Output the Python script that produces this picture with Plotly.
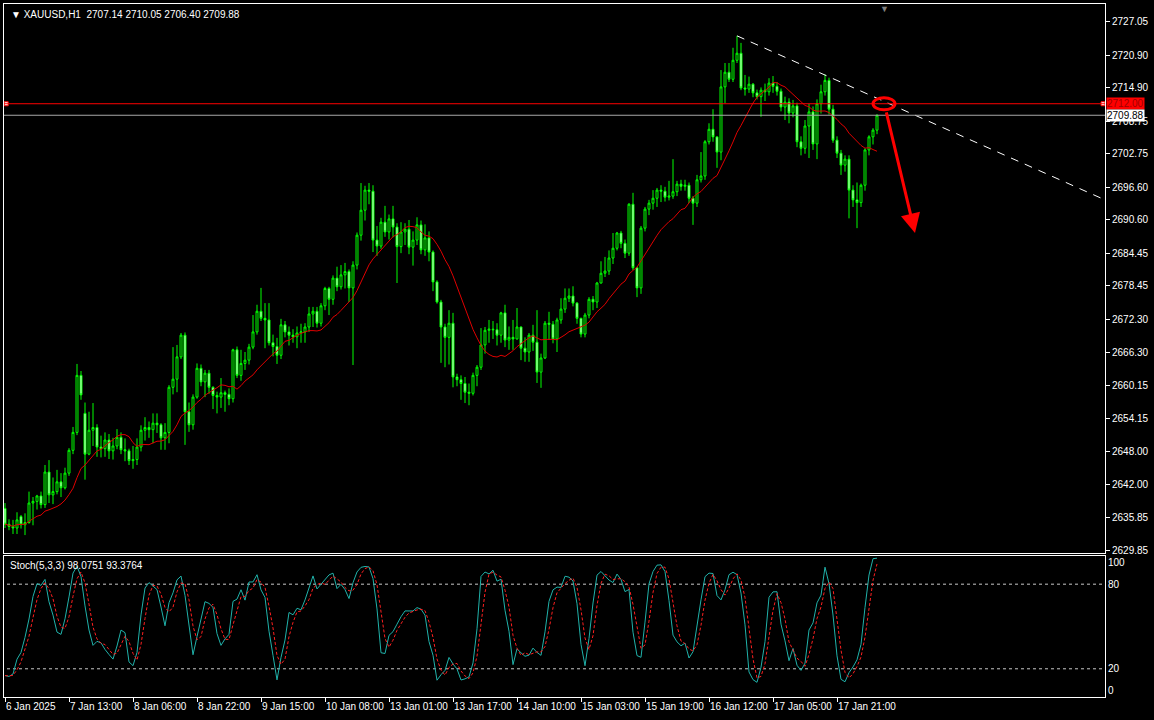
import plotly.graph_objects as go
import pandas as pd

# ---------------- data ----------------
opens = [
    2637.5, 2634.6, 2634.2, 2633.9, 2636.0, 2634.5, 2634.9, 2638.5, 2638.8, 2639.8,
    2638.2, 2644.2, 2640.0, 2640.6, 2642.4, 2641.3, 2644.0, 2648.2, 2651.5, 2662.0,
    2655.0, 2647.5, 2651.9, 2652.4, 2648.8, 2648.5, 2650.1, 2648.1, 2649.0, 2650.6,
    2648.3, 2648.1, 2646.3, 2646.5, 2648.8, 2651.9, 2652.4, 2652.0, 2653.2, 2652.9,
    2650.5, 2651.5, 2659.8, 2661.3, 2665.4, 2669.4, 2655.3, 2652.9, 2658.0, 2663.3,
    2660.8, 2662.4, 2659.8, 2658.3, 2658.0, 2658.8, 2658.5, 2657.7, 2666.7, 2662.0,
    2664.2, 2664.8, 2667.2, 2670.0, 2673.8, 2672.5, 2672.2, 2668.0, 2667.3, 2665.7,
    2671.3, 2670.0, 2669.4, 2669.1, 2669.8, 2670.0, 2670.9, 2673.3, 2673.8, 2671.6,
    2674.8, 2678.0, 2676.0, 2679.9, 2678.3, 2680.5, 2681.1, 2678.1, 2682.3, 2687.8,
    2692.4, 2696.1, 2695.9, 2686.9, 2685.8, 2690.2, 2688.4, 2690.8, 2689.3, 2685.7,
    2688.4, 2688.9, 2685.6, 2686.9, 2689.7, 2685.1, 2687.3, 2684.7, 2679.2, 2675.5,
    2670.9, 2669.0, 2671.6, 2661.7, 2661.2, 2660.5, 2658.9, 2658.7, 2662.0, 2663.5,
    2667.6, 2670.3, 2670.5, 2670.4, 2669.4, 2673.5, 2668.5, 2669.0, 2668.7, 2670.9,
    2667.0, 2666.3, 2669.4, 2668.1, 2662.6, 2665.2, 2671.6, 2671.4, 2668.7, 2672.2,
    2674.2, 2676.2, 2676.6, 2675.3, 2672.5, 2669.6, 2673.1, 2676.0, 2675.5, 2679.0,
    2680.8, 2681.2, 2683.6, 2685.4, 2688.2, 2686.3, 2684.5, 2693.5, 2681.8, 2678.1,
    2689.1, 2692.6, 2693.7, 2694.6, 2696.1, 2695.9, 2694.8, 2695.0, 2695.8, 2697.2,
    2696.8, 2697.0, 2694.6, 2693.7, 2698.0, 2698.7, 2705.0, 2707.3, 2705.9, 2703.1,
    2715.1, 2717.8, 2716.5, 2720.0, 2721.3, 2714.9, 2714.7, 2715.6, 2714.0, 2713.3,
    2714.5, 2714.2, 2715.8, 2715.2, 2714.3, 2711.4, 2712.3, 2710.3, 2711.6, 2705.0,
    2703.8, 2707.9, 2710.5, 2704.6, 2712.0, 2714.2, 2716.3, 2711.0, 2705.3, 2702.9,
    2700.7, 2701.8, 2696.1, 2694.3, 2693.8, 2697.0, 2703.5, 2705.9, 2707.14,
]
highs = [
    2638.5, 2635.5, 2635.4, 2636.8, 2636.3, 2636.6, 2640.6, 2639.6, 2640.0, 2640.6,
    2645.5, 2646.4, 2643.2, 2644.6, 2644.0, 2645.0, 2648.6, 2652.5, 2664.1, 2662.8,
    2657.0, 2655.3, 2656.9, 2653.0, 2650.9, 2651.5, 2651.2, 2650.5, 2652.1, 2651.5,
    2650.4, 2648.5, 2649.0, 2650.4, 2652.8, 2654.3, 2653.5, 2655.0, 2655.0, 2653.2,
    2653.2, 2660.2, 2667.2, 2667.6, 2669.8, 2669.9, 2657.0, 2658.5, 2664.2, 2664.0,
    2663.0, 2663.0, 2660.0, 2659.0, 2661.5, 2659.2, 2659.6, 2666.9, 2667.3, 2666.7,
    2666.3, 2667.8, 2673.1, 2675.0, 2678.1, 2675.3, 2675.3, 2669.5, 2668.9, 2672.4,
    2672.0, 2671.0, 2670.5, 2671.0, 2671.5, 2671.6, 2674.6, 2674.6, 2674.6, 2675.3,
    2678.3, 2678.3, 2680.4, 2682.0, 2682.3, 2682.7, 2681.5, 2683.0, 2688.3, 2697.4,
    2696.9, 2697.4, 2697.0, 2689.5, 2691.0, 2693.2, 2691.6, 2693.2, 2690.0, 2690.2,
    2690.0, 2690.6, 2688.5, 2691.1, 2690.5, 2689.8, 2688.5, 2685.0, 2679.5, 2675.9,
    2671.5, 2674.0, 2673.5, 2662.3, 2662.0, 2661.7, 2660.5, 2662.5, 2663.9, 2670.7,
    2670.9, 2672.2, 2672.0, 2671.6, 2673.7, 2675.0, 2671.0, 2672.2, 2674.4, 2671.0,
    2669.0, 2669.8, 2671.3, 2674.0, 2666.0, 2672.0, 2673.7, 2672.0, 2672.6, 2676.2,
    2678.0, 2678.0, 2678.4, 2675.5, 2672.6, 2673.5, 2676.4, 2676.6, 2679.2, 2683.0,
    2683.8, 2685.0, 2688.2, 2688.4, 2688.6, 2687.0, 2693.7, 2695.6, 2682.0, 2689.5,
    2693.0, 2694.3, 2696.1, 2696.5, 2697.0, 2696.7, 2697.8, 2701.8, 2697.8, 2698.0,
    2698.0, 2697.5, 2695.0, 2698.9, 2703.1, 2705.3, 2708.4, 2711.0, 2706.0, 2718.2,
    2719.5, 2719.5, 2722.3, 2724.5, 2723.2, 2717.3, 2717.0, 2715.8, 2714.6, 2715.0,
    2715.7, 2716.7, 2717.1, 2716.0, 2714.8, 2713.3, 2713.0, 2712.7, 2712.2, 2706.0,
    2709.0, 2712.0, 2711.5, 2712.8, 2715.5, 2717.4, 2716.8, 2711.8, 2706.0, 2703.5,
    2702.5, 2702.5, 2697.0, 2697.5, 2697.3, 2703.8, 2706.2, 2707.5, 2710.05,
]
lows = [
    2633.9, 2633.5, 2632.8, 2632.8, 2633.8, 2632.6, 2634.7, 2634.4, 2637.3, 2637.5,
    2637.6, 2638.5, 2638.3, 2640.1, 2639.6, 2641.0, 2643.5, 2647.5, 2651.0, 2657.5,
    2642.8, 2647.3, 2649.0, 2647.0, 2646.9, 2647.0, 2646.6, 2646.5, 2648.4, 2647.5,
    2646.2, 2645.5, 2644.8, 2645.5, 2648.0, 2650.0, 2650.5, 2649.5, 2651.4, 2648.3,
    2648.3, 2649.5, 2658.5, 2658.9, 2665.0, 2649.2, 2651.6, 2652.0, 2657.7, 2660.0,
    2658.0, 2658.6, 2655.8, 2655.0, 2656.0, 2655.3, 2656.5, 2657.0, 2661.5, 2661.0,
    2663.0, 2664.0, 2666.8, 2669.5, 2672.0, 2667.0, 2667.5, 2665.5, 2664.1, 2665.0,
    2669.0, 2667.5, 2668.0, 2667.0, 2668.0, 2668.0, 2670.0, 2670.9, 2670.8, 2671.0,
    2674.0, 2673.1, 2675.0, 2677.5, 2677.8, 2678.0, 2675.5, 2663.9, 2681.5, 2686.8,
    2690.5, 2693.5, 2684.7, 2684.0, 2685.3, 2687.5, 2687.0, 2687.4, 2679.0, 2684.5,
    2686.0, 2684.3, 2682.2, 2686.0, 2684.3, 2684.0, 2683.0, 2677.5, 2675.2, 2664.3,
    2663.5, 2664.0, 2659.8, 2660.0, 2657.5, 2656.9, 2656.5, 2658.3, 2660.0, 2663.0,
    2666.0, 2668.0, 2668.7, 2667.5, 2668.0, 2667.2, 2666.7, 2666.7, 2668.6, 2664.8,
    2664.5, 2664.5, 2666.5, 2660.6, 2659.7, 2665.0, 2668.5, 2667.9, 2666.3, 2671.5,
    2673.5, 2675.5, 2674.7, 2671.5, 2669.0, 2669.0, 2672.5, 2674.0, 2674.4, 2678.9,
    2680.1, 2680.5, 2682.5, 2685.0, 2685.4, 2683.6, 2684.0, 2681.4, 2676.4, 2677.0,
    2688.5, 2691.5, 2692.5, 2693.0, 2693.9, 2694.0, 2694.2, 2694.5, 2695.0, 2696.0,
    2696.0, 2693.7, 2689.7, 2693.0, 2697.5, 2698.0, 2704.5, 2705.0, 2700.2, 2701.6,
    2712.1, 2716.0, 2716.0, 2719.5, 2714.5, 2713.5, 2714.0, 2713.2, 2712.8, 2709.6,
    2712.5, 2713.5, 2714.0, 2713.5, 2710.6, 2709.0, 2708.4, 2709.5, 2704.0, 2702.5,
    2702.8, 2702.0, 2703.5, 2701.8, 2710.2, 2713.5, 2710.0, 2704.8, 2702.0, 2698.9,
    2699.5, 2690.9, 2693.0, 2689.1, 2693.0, 2696.0, 2702.5, 2704.5, 2706.40,
]
closes = [
    2634.6, 2634.2, 2633.9, 2635.4, 2634.5, 2634.9, 2638.5, 2638.8, 2639.8, 2638.2,
    2644.2, 2640.0, 2640.6, 2642.4, 2641.3, 2644.0, 2648.2, 2651.5, 2662.0, 2658.4,
    2647.5, 2651.9, 2652.4, 2648.8, 2648.5, 2650.1, 2648.1, 2649.0, 2650.6, 2648.3,
    2648.1, 2646.3, 2646.5, 2648.8, 2651.9, 2652.4, 2652.0, 2653.2, 2652.9, 2650.5,
    2651.5, 2659.8, 2661.3, 2665.4, 2669.4, 2655.3, 2652.9, 2658.0, 2663.3, 2660.8,
    2662.4, 2659.8, 2658.3, 2658.0, 2658.8, 2658.5, 2657.7, 2666.7, 2662.0, 2664.2,
    2664.8, 2667.2, 2670.0, 2673.8, 2672.5, 2672.2, 2668.0, 2667.3, 2665.7, 2671.3,
    2670.0, 2669.4, 2669.1, 2669.8, 2670.0, 2670.9, 2673.3, 2673.8, 2671.6, 2674.8,
    2678.0, 2676.0, 2679.9, 2678.3, 2680.5, 2681.1, 2678.1, 2682.3, 2687.8, 2692.4,
    2696.1, 2695.9, 2686.9, 2685.8, 2690.2, 2688.4, 2690.8, 2689.3, 2685.7, 2688.4,
    2688.9, 2685.6, 2686.9, 2689.7, 2685.1, 2687.3, 2684.7, 2679.2, 2675.5, 2670.9,
    2669.0, 2671.6, 2661.7, 2661.2, 2660.5, 2658.9, 2658.7, 2662.0, 2663.5, 2667.6,
    2670.3, 2670.5, 2670.4, 2669.4, 2673.5, 2668.5, 2669.0, 2668.7, 2670.9, 2667.0,
    2666.3, 2669.4, 2668.1, 2662.6, 2665.2, 2671.6, 2671.4, 2668.7, 2672.2, 2674.2,
    2676.2, 2676.6, 2675.3, 2672.5, 2669.6, 2673.1, 2676.0, 2675.5, 2679.0, 2680.8,
    2681.2, 2683.6, 2685.4, 2688.2, 2686.3, 2684.5, 2693.5, 2681.8, 2678.1, 2689.1,
    2692.6, 2693.7, 2694.6, 2696.1, 2695.9, 2694.8, 2695.0, 2695.8, 2697.2, 2696.8,
    2697.0, 2694.6, 2693.7, 2698.0, 2698.7, 2705.0, 2707.3, 2705.9, 2703.1, 2715.1,
    2717.8, 2716.5, 2720.0, 2721.3, 2714.9, 2714.7, 2715.6, 2714.0, 2713.3, 2714.5,
    2714.2, 2715.8, 2715.2, 2714.3, 2711.4, 2712.3, 2710.3, 2711.6, 2705.0, 2703.8,
    2707.9, 2710.5, 2704.6, 2712.0, 2714.2, 2716.3, 2711.0, 2705.3, 2702.9, 2700.7,
    2701.8, 2696.1, 2694.3, 2693.8, 2697.0, 2703.5, 2705.9, 2707.14, 2709.88,
]

time_labels = ["6 Jan 2025", "7 Jan 13:00", "8 Jan 06:00", "8 Jan 22:00", "9 Jan 15:00",
               "10 Jan 08:00", "13 Jan 01:00", "13 Jan 17:00", "14 Jan 10:00", "15 Jan 03:00",
               "15 Jan 19:00", "16 Jan 12:00", "17 Jan 05:00", "17 Jan 21:00"]
bars_per_label = 16

price_ticks = [2727.05, 2720.90, 2714.90, 2708.75, 2702.75, 2696.60, 2690.60, 2684.45,
               2678.45, 2672.30, 2666.30, 2660.15, 2654.15, 2648.00, 2642.00, 2635.85, 2629.85]
stoch_levels = [80, 20]
stoch_tick_text = ["100", "80", "20", "0"]

level_price = 2712.00          # red horizontal level
bid_price = 2709.88            # last price
trend_x = [183, 275]           # dashed resistance line (bar index)
trend_y = [2724.5, 2694.3]
arrow_tail = (220.25, 2710.7)
arrow_head = (227.5, 2688.2)

ma_period = 14
k_period, slowing, d_period = 5, 3, 3

# ---------------- derived indicators ----------------
n = len(closes)
x = list(range(n))
df = pd.DataFrame({"h": highs, "l": lows, "c": closes})
ma = df.c.rolling(ma_period, min_periods=1).mean()
ll = df.l.rolling(k_period, min_periods=1).min()
hh = df.h.rolling(k_period, min_periods=1).max()
k_line = 100 * (df.c - ll).rolling(slowing, min_periods=1).sum() / (hh - ll).rolling(slowing, min_periods=1).sum()
d_line = k_line.rolling(d_period, min_periods=1).mean()

# ---------------- figure ----------------
FONT = "Liberation Sans"
fig = go.Figure()

fig.add_trace(go.Candlestick(
    x=x, open=opens, high=highs, low=lows, close=closes,
    increasing=dict(line=dict(color="#00ff00", width=1), fillcolor="#000000"),
    decreasing=dict(line=dict(color="#00ff00", width=1), fillcolor="#e8ffe8"),
    whiskerwidth=0, xaxis="x", yaxis="y", hoverinfo="skip", showlegend=False))

fig.add_trace(go.Scatter(x=x, y=ma, mode="lines", line=dict(color="#e00000", width=1),
                         xaxis="x", yaxis="y", hoverinfo="skip", showlegend=False))

fig.add_trace(go.Scatter(x=trend_x, y=trend_y, mode="lines",
                         line=dict(color="#ffffff", width=1, dash="8px,7px"),
                         xaxis="x", yaxis="y", hoverinfo="skip", showlegend=False))

# level line end markers
fig.add_trace(go.Scatter(x=[0.3, 274.5], y=[level_price, level_price], mode="markers",
                         marker=dict(symbol="square", size=4, color="#ffffff",
                                     line=dict(color="#ff0000", width=1)),
                         xaxis="x", yaxis="y", hoverinfo="skip", showlegend=False))

# stochastic
for lvl in stoch_levels:
    fig.add_trace(go.Scatter(x=[-1, 276], y=[lvl, lvl], mode="lines",
                             line=dict(color="#c8c8c8", width=1, dash="3px,3px"),
                             xaxis="x2", yaxis="y2", hoverinfo="skip", showlegend=False))
fig.add_trace(go.Scatter(x=x, y=k_line, mode="lines", line=dict(color="#20b2aa", width=1),
                         xaxis="x2", yaxis="y2", hoverinfo="skip", showlegend=False))
fig.add_trace(go.Scatter(x=x, y=d_line, mode="lines", line=dict(color="#ff2020", width=1, dash="3px,2px"),
                         xaxis="x2", yaxis="y2", hoverinfo="skip", showlegend=False))

# shapes: level line, bid line, ellipse
shapes = [
    dict(type="line", xref="x domain", yref="y", x0=0, x1=1, y0=level_price, y1=level_price,
         line=dict(color="#ff0000", width=1)),
    dict(type="line", xref="x domain", yref="y", x0=0, x1=1, y0=bid_price, y1=bid_price,
         line=dict(color="#a8a8a8", width=1)),
    dict(type="circle", xref="x", yref="y", x0=217.0, x1=222.5, y0=2710.9, y1=2713.1,
         line=dict(color="#ff0000", width=3)),
]

annotations = [
    dict(text="▼ XAUUSD,H1  2707.14 2710.05 2706.40 2709.88", xref="paper", yref="paper",
         x=0, y=1, xanchor="left", yanchor="top", xshift=5, yshift=-3, showarrow=False,
         font=dict(family=FONT, size=10, color="#ffffff")),
    dict(text="Stoch(5,3,3) 98.0751 93.3764", xref="x2 domain", yref="y2 domain",
         x=0, y=1, xanchor="left", yanchor="top", xshift=4, yshift=-2, showarrow=False,
         font=dict(family=FONT, size=10, color="#ffffff")),
    dict(text="▼", xref="x", yref="paper", x=219.75, y=1, yanchor="top", yshift=2,
         showarrow=False, font=dict(family=FONT, size=9, color="#808080")),
    dict(text=f"{level_price:.2f}", xref="paper", yref="y", x=1, y=level_price, xanchor="left",
         xshift=1, showarrow=False, bgcolor="#ff0000", borderpad=0,
         font=dict(family=FONT, size=10, color="#a00000")),
    dict(text=f"{bid_price:.2f}", xref="paper", yref="y", x=1, y=bid_price, xanchor="left",
         xshift=1, showarrow=False, bgcolor="#ffffff", borderpad=0,
         font=dict(family=FONT, size=10, color="#000000")),
    dict(text="", x=arrow_head[0], y=arrow_head[1], ax=arrow_tail[0], ay=arrow_tail[1],
         xref="x", yref="y", axref="x", ayref="y", showarrow=True, arrowhead=2,
         arrowsize=1.3, arrowwidth=3, arrowcolor="#ff0000"),
]

xr = [-0.25, 275]
axis_common = dict(showgrid=False, zeroline=False, showline=True, mirror=True,
                   linecolor="#ffffff", linewidth=1)
fig.update_layout(
    width=1154, height=720,
    margin=dict(l=4, r=49, t=4, b=23),
    paper_bgcolor="#000000", plot_bgcolor="#000000",
    showlegend=False, hovermode=False,
    shapes=shapes, annotations=annotations,
    xaxis=dict(domain=[0, 1], range=xr, anchor="y", showticklabels=False, ticks="",
               rangeslider=dict(visible=False), **axis_common),
    yaxis=dict(domain=[0.2078, 1], range=[2629.3, 2730.36], side="right", anchor="x",
               tickvals=price_ticks, ticktext=[f"{v:.2f}" for v in price_ticks],
               ticks="outside", ticklen=4, tickcolor="#ffffff",
               tickfont=dict(family=FONT, size=10, color="#ffffff"), **axis_common),
    xaxis2=dict(domain=[0, 1], range=xr, anchor="y2",
                tickvals=[i * bars_per_label for i in range(len(time_labels))],
                ticktext=time_labels, ticks="outside", ticklen=4, tickcolor="#ffffff",
                ticklabelposition="outside right", tickangle=0,
                tickfont=dict(family=FONT, size=10, color="#ffffff"), **axis_common),
    yaxis2=dict(domain=[0, 0.2035], range=[0, 100], side="right", anchor="x2",
                tickvals=[95.5, 80, 20, 4.5], ticktext=stoch_tick_text, ticks="",
                tickfont=dict(family=FONT, size=10, color="#ffffff"), **axis_common),
)

fig.write_html("out.html", config={"displayModeBar": False},
               post_script="document.body.style.margin='0';document.body.style.padding='0';"
                           "document.body.style.overflow='hidden';"
                           "document.body.style.background='#000';")
